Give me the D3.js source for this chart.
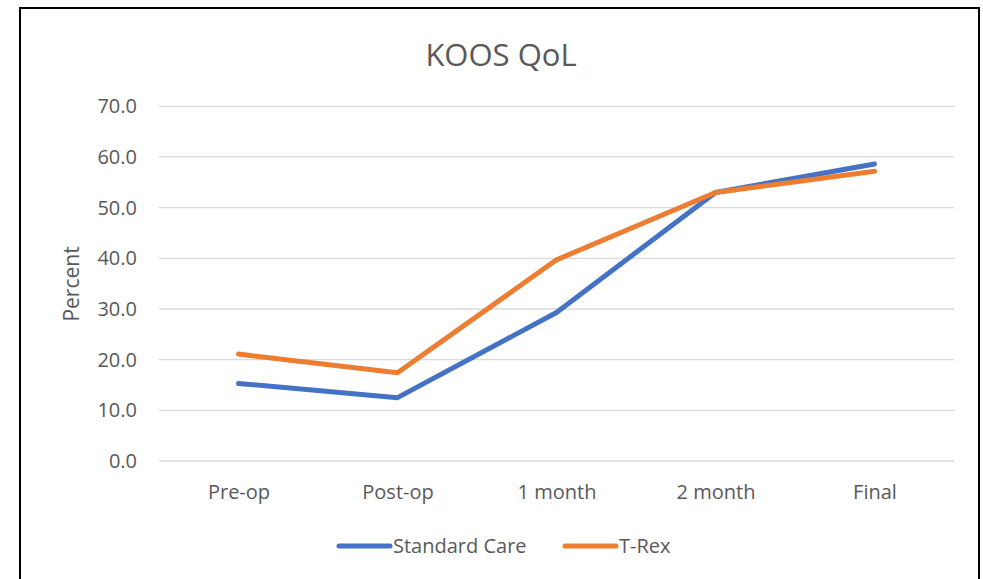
<!DOCTYPE html>
<html>
<head>
<meta charset="utf-8">
<script src="https://cdn.jsdelivr.net/npm/d3@7"></script>
<style>
  body { margin: 0; background: #fff; }
  text { font-family: "Open Sans", "Noto Sans", sans-serif; fill: #595959; }
</style>
</head>
<body>
<div id="graph"></div>
<script>
let width = 983, height = 579;

// Data
const categories = ["Pre-op", "Post-op", "1 month", "2 month", "Final"];
const standardCare = [15.3, 12.5, 29.3, 53.0, 58.6];
const tRex = [21.1, 17.4, 39.7, 53.0, 57.2];
const yTicks = [0, 10, 20, 30, 40, 50, 60, 70];

const series = [
  { name: "Standard Care", values: standardCare, color: "#4472C4" },
  { name: "T-Rex", values: tRex, color: "#ED7D31" }
];

let svg = d3.select("#graph").append("svg")
  .attr("width", width)
  .attr("height", height);

// Chart border
svg.append("rect")
  .attr("x", 20).attr("y", 8)
  .attr("width", 959).attr("height", 580)
  .attr("fill", "#fff")
  .attr("stroke", "#000")
  .attr("stroke-width", 2);

// Scales
let x = d3.scalePoint().domain(categories).range([159, 954]).padding(0.5);
let y = d3.scaleLinear().domain([0, 70]).range([461, 106.3]);

// Gridlines
svg.append("g")
  .selectAll("line")
  .data(yTicks)
  .enter().append("line")
  .attr("x1", 159).attr("x2", 954)
  .attr("y1", d => y(d)).attr("y2", d => y(d))
  .attr("stroke", "#d9d9d9")
  .attr("stroke-width", 1.3);

// Y axis labels
let yAxis = svg.append("g")
  .attr("transform", "translate(146,0)")
  .call(d3.axisLeft(y).tickValues(yTicks).tickFormat(d3.format(".1f")).tickSize(0).tickPadding(9));
yAxis.select(".domain").remove();
yAxis.selectAll("text").style("font-size", "20px").attr("fill", "#595959");

// X axis labels
let xAxis = svg.append("g")
  .attr("transform", "translate(0,492)")
  .call(d3.axisBottom(x).tickSize(0).tickPadding(0));
xAxis.select(".domain").remove();
xAxis.selectAll("text").style("font-size", "20px").attr("fill", "#595959").attr("y", 0).attr("dy", "0.35em");

// Title
svg.append("text")
  .attr("x", 501).attr("y", 66)
  .attr("text-anchor", "middle")
  .style("font-size", "31px")
  .text("KOOS QoL");

// Y title
svg.append("text")
  .attr("transform", "translate(72,284) rotate(-90)")
  .attr("text-anchor", "middle")
  .attr("dy", "0.35em")
  .style("font-size", "21px")
  .text("Percent");

// Lines
let line = d3.line()
  .x((d, i) => x(categories[i]))
  .y(d => y(d));

svg.append("g")
  .selectAll("path")
  .data(series)
  .enter().append("path")
  .attr("d", d => line(d.values))
  .attr("fill", "none")
  .attr("stroke", d => d.color)
  .attr("stroke-width", 5)
  .attr("stroke-linecap", "round")
  .attr("stroke-linejoin", "round");

// Legend
const legendX = [339, 565];
let legend = svg.append("g")
  .selectAll("g")
  .data(series)
  .enter().append("g")
  .attr("transform", (d, i) => "translate(" + legendX[i] + ",546)");

legend.append("line")
  .attr("x1", 0).attr("x2", 51)
  .attr("stroke", d => d.color)
  .attr("stroke-width", 5)
  .attr("stroke-linecap", "round");

legend.append("text")
  .attr("x", 54)
  .attr("dy", "0.35em")
  .style("font-size", "20px")
  .text(d => d.name);
</script>
</body>
</html>
